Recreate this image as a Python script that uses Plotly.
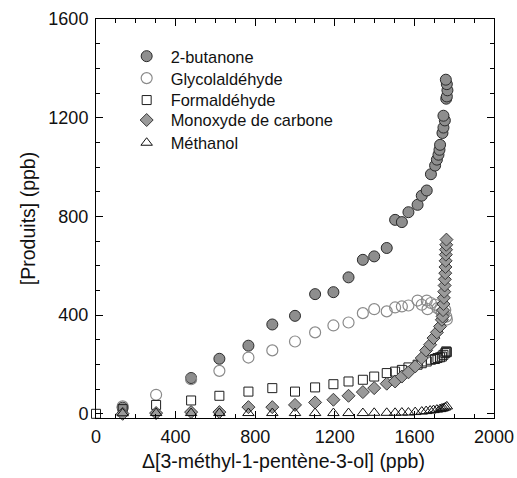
import plotly.graph_objects as go

# 2-butanone
x_but = [134, 478, 620, 766, 886, 1000, 1101, 1193, 1269, 1341, 1398, 1461, 1503, 1537,
         1570, 1616, 1637, 1662, 1683, 1704, 1713, 1721, 1726, 1729, 1741, 1746, 1753, 1746,
         1760, 1763, 1766, 1763, 1758]
y_but = [25, 145, 223, 276, 362, 397, 485, 493, 553, 624, 638, 672, 786, 777,
         817, 847, 884, 905, 971, 1006, 1030, 1050, 1070, 1090, 1138, 1160, 1189, 1208,
         1277, 1286, 1311, 1336, 1354]

# Glycolaldéhyde
x_gly = [134, 302, 478, 620, 766, 886, 1000, 1101, 1193, 1269, 1341, 1398, 1461, 1503,
         1537, 1570, 1616, 1637, 1662, 1666, 1683, 1704, 1716, 1729, 1738, 1746, 1755, 1760, 1763]
y_gly = [30, 77, 140, 174, 228, 257, 293, 330, 358, 370, 408, 424, 415, 431,
         435, 439, 459, 442, 459, 424, 449, 442, 428, 421, 408, 401, 421, 394, 382]

# Formaldéhyde
x_for = [0, 134, 302, 478, 620, 766, 886, 1000, 1101, 1193, 1269, 1341, 1398, 1461, 1503,
         1537, 1570, 1616, 1637, 1662, 1683, 1704, 1716, 1729, 1738, 1746, 1755, 1760, 1763]
y_for = [0, 19, 36, 54, 73, 90, 104, 90, 107, 120, 131, 138, 151, 165, 171,
         178, 188, 199, 205, 212, 219, 222, 226, 229, 232, 239, 246, 253, 250]

# Monoxyde de carbone
x_co = [134, 302, 478, 620, 766, 886, 1000, 1101, 1193, 1269, 1341, 1398, 1461, 1503,
        1537, 1570, 1604, 1637, 1659, 1679, 1696, 1713, 1729, 1738, 1742, 1744, 1746, 1748,
        1750, 1752, 1753, 1755, 1756, 1757, 1758, 1759, 1760, 1761]
y_co = [0, 3, 7, 7, 27, 27, 36, 46, 57, 73, 88, 104, 122, 131,
        151, 168, 192, 226, 257, 280, 307, 330, 354, 381, 394, 420, 445, 470,
        495, 520, 545, 570, 595, 620, 645, 665, 685, 706]

# Méthanol
x_met = [134, 302, 478, 620, 766, 886, 1000, 1101, 1193, 1269, 1341, 1398, 1461, 1503,
         1537, 1570, 1604, 1637, 1659, 1679, 1696, 1713, 1729, 1738, 1746, 1755, 1763]
y_met = [2, 3, 3, 3, 3, 3, 3, 3, 3, 3, 3, 4, 4, 4,
         5, 5, 7, 9, 11, 13, 15, 17, 19, 21, 23, 26, 30]

names = ["2-butanone", "Glycolaldéhyde", "Formaldéhyde", "Monoxyde de carbone", "Méthanol"]

FONT = "Liberation Sans, Arial, Helvetica, sans-serif"

legend_ids = ["legend", "legend2", "legend3", "legend4", "legend5"]

fig = go.Figure()
fig.add_trace(go.Scatter(x=x_but, y=y_but, mode="markers", name=names[0], legend=legend_ids[0],
                         cliponaxis=False,
                         marker=dict(symbol="circle", size=11, color="#8e8e8e",
                                     line=dict(color="#2a2a2a", width=1))))
fig.add_trace(go.Scatter(x=x_gly, y=y_gly, mode="markers", name=names[1], legend=legend_ids[1],
                         cliponaxis=False,
                         marker=dict(symbol="circle-open", size=11, color="#8a8a8a",
                                     line=dict(width=1.2))))
fig.add_trace(go.Scatter(x=x_for, y=y_for, mode="markers", name=names[2], legend=legend_ids[2],
                         cliponaxis=False,
                         marker=dict(symbol="square-open", size=9, color="#1e1e1e",
                                     line=dict(width=1))))
fig.add_trace(go.Scatter(x=x_co, y=y_co, mode="markers", name=names[3], legend=legend_ids[3],
                         cliponaxis=False,
                         marker=dict(symbol="diamond", size=10, color="#9a9a9a",
                                     line=dict(color="#3a3a3a", width=1))))
fig.add_trace(go.Scatter(x=x_met, y=y_met, mode="markers", name=names[4], legend=legend_ids[4],
                         cliponaxis=False,
                         marker=dict(symbol="triangle-up-open", size=10, color="#111111",
                                     line=dict(width=1))))

axis_common = dict(showline=True, linecolor="black", linewidth=1, mirror="ticks",
                   ticks="inside", ticklen=7, tickwidth=1, tickcolor="black",
                   showgrid=False, zeroline=False, automargin=False,
                   tickfont=dict(family=FONT, size=18, color="#111111"))

fig.update_xaxes(range=[0, 2000], dtick=400, tick0=0,
                 minor=dict(ticks="inside", ticklen=4, dtick=100, tickcolor="black", showgrid=False),
                 ticklabelstandoff=2,
                 **axis_common)
fig.update_yaxes(range=[-17, 1600], dtick=400, tick0=0,
                 minor=dict(ticks="inside", ticklen=4, dtick=100, tickcolor="black", showgrid=False),
                 title=dict(text="[Produits] (ppb)", font=dict(family=FONT, size=19.5, color="#111111"),
                            standoff=7),
                 ticklabelstandoff=3,
                 **axis_common)

fig.add_annotation(text="Δ[3-méthyl-1-pentène-3-ol] (ppb)", xref="paper", yref="paper",
                   x=0.472, y=-0.107, xanchor="center", yanchor="middle", showarrow=False,
                   font=dict(family=FONT, size=19.5, color="#111111"))

# legend rows (page pixel centres 54, 76, 99, 120, 143 ; plot spans 19.3..418.3)
row_y = [0.906, 0.851, 0.796, 0.746, 0.689]
legend_layout = {}
for lid, yy in zip(legend_ids, row_y):
    legend_layout[lid] = dict(x=0.067, y=yy, xanchor="left", yanchor="middle",
                              bgcolor="rgba(0,0,0,0)", borderwidth=0, itemwidth=38,
                              font=dict(family=FONT, size=16.4, color="#111111"))

fig.update_layout(
    width=517, height=478,
    margin=dict(l=96, r=23, t=19, b=60),
    paper_bgcolor="white", plot_bgcolor="white",
    showlegend=True,
    **legend_layout,
)

fig.write_html("out.html", config={"displayModeBar": False},
               post_script="document.body.style.margin='0';document.body.style.overflow='hidden';")
